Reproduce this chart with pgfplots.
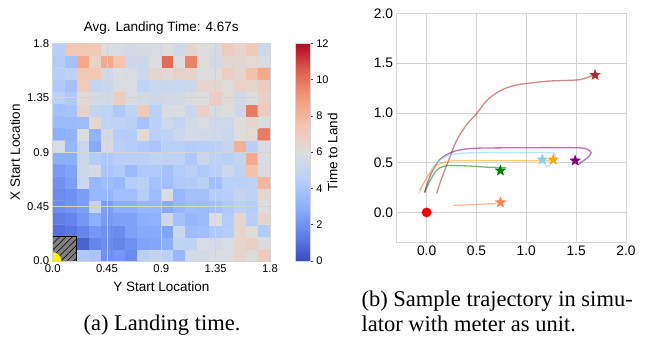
\documentclass[border=0pt]{standalone}
\usepackage{pgfplots}
\pgfplotsset{compat=1.18}
\usepackage{fontspec}
\setmainfont{Liberation Sans}
\newfontfamily\capfont{Liberation Serif}
\usetikzlibrary{patterns.meta}
\definecolor{gridc}{RGB}{212,212,212}
\definecolor{cbrown}{RGB}{165,42,42}
\definecolor{cpurple}{RGB}{128,0,128}
\definecolor{csky}{RGB}{135,206,235}
\definecolor{corange}{RGB}{255,165,0}
\definecolor{cgreen}{RGB}{0,128,0}
\definecolor{ccoral}{RGB}{255,127,80}
\pgfplotsset{colormap={coolwarm}{rgb255=(59,76,192) rgb255=(98,130,234) rgb255=(141,176,254) rgb255=(184,208,249) rgb255=(221,221,221) rgb255=(245,196,173) rgb255=(244,154,123) rgb255=(222,96,77) rgb255=(180,4,38)}}
\pgfdeclareplotmark{fstar}{%
  \pgfpathmoveto{\pgfpointpolar{90}{\pgfplotmarksize}}%
  \pgfpathlineto{\pgfpointpolar{126}{0.42\pgfplotmarksize}}%
  \pgfpathlineto{\pgfpointpolar{162}{\pgfplotmarksize}}%
  \pgfpathlineto{\pgfpointpolar{198}{0.42\pgfplotmarksize}}%
  \pgfpathlineto{\pgfpointpolar{234}{\pgfplotmarksize}}%
  \pgfpathlineto{\pgfpointpolar{270}{0.42\pgfplotmarksize}}%
  \pgfpathlineto{\pgfpointpolar{306}{\pgfplotmarksize}}%
  \pgfpathlineto{\pgfpointpolar{342}{0.42\pgfplotmarksize}}%
  \pgfpathlineto{\pgfpointpolar{18}{\pgfplotmarksize}}%
  \pgfpathlineto{\pgfpointpolar{54}{0.42\pgfplotmarksize}}%
  \pgfpathclose
  \pgfusepathqfillstroke
}
\begin{document}
\begin{tikzpicture}
\useasboundingbox (0pt,0pt) rectangle (657pt,341pt);
% ---------------- heatmap ----------------
\begin{axis}[
  at={(52.7pt,80pt)}, anchor=south west,
  scale only axis, width=217.3pt, height=217.7pt,
  xmin=0, xmax=1.8, ymin=0, ymax=1.8, enlargelimits=false,
  axis on top,
  xtick={0,0.45,0.9,1.35,1.8}, xticklabels={0.0,0.45,0.9,1.35,1.8},
  ytick={0,0.45,0.9,1.35,1.8}, yticklabels={0.0,0.45,0.9,1.35,1.8},
  grid=major, major grid style={draw=gridc, line width=0.8pt},
  axis line style={draw=gridc, line width=0.8pt},
  major tick length=0pt,
  tick label style={font=\fontsize{11.3}{13}\selectfont},
  xlabel={Y Start Location}, ylabel={X Start Location},
  label style={font=\fontsize{13.5}{16}\selectfont},
  xlabel style={at={(axis description cs:0.5,-0.117)}, anchor=center},
  ylabel style={at={(axis description cs:-0.1735,0.5)}, anchor=center},
  title={Avg. Landing Time: 4.67s},
  title style={font=\fontsize{13.5}{16}\selectfont, at={(0.5,1)}, anchor=base, yshift=5.8pt},
  colormap name=coolwarm, point meta min=0, point meta max=12,
  colorbar,
  colorbar style={
    at={(parent axis.north east)}, anchor=north west, xshift=16.7pt,
    scale only axis, width=15pt, height=217.7pt,
    ytick={0,2,...,12}, ytick pos=right, yticklabel pos=right,
    tick align=outside, major tick length=2.5pt,
    major tick style={draw=black!70, line width=0.5pt},
    axis line style={draw=gridc},
    /pgf/number format/assume math mode=true,
    yticklabel style={font=\fontsize{11}{13}\selectfont},
    ylabel={Time to Land},
    ylabel style={font=\fontsize{13.5}{16}\selectfont, at={(axis description cs:2.49,0.5)}, anchor=center},
  },
  clip marker paths=true,
]
\addplot[matrix plot*, shader=flat corner, mesh/cols=18, point meta=explicit] table[row sep=\\, meta=c] {
h v c\\
0.05 0.05 0\\ 0.15 0.05 0\\ 0.25 0.05 4.2\\ 0.35 0.05 4.0\\ 0.45 0.05 2.0\\ 0.55 0.05 2.2\\ 0.65 0.05 1.8\\ 0.75 0.05 4.6\\ 0.85 0.05 5.0\\ 0.95 0.05 4.6\\ 1.05 0.05 3.4\\ 1.15 0.05 5.5\\ 1.25 0.05 5.5\\ 1.35 0.05 5.9\\ 1.45 0.05 5.9\\ 1.55 0.05 6.4\\ 1.65 0.05 6.1\\ 1.75 0.05 7.0\\
0.05 0.15 0\\ 0.15 0.15 0\\ 0.25 0.15 0.6\\ 0.35 0.15 1.6\\ 0.45 0.15 1.9\\ 0.55 0.15 1.6\\ 0.65 0.15 2.0\\ 0.75 0.15 2.6\\ 0.85 0.15 2.7\\ 0.95 0.15 3.0\\ 1.05 0.15 4.8\\ 1.15 0.15 4.7\\ 1.25 0.15 5.8\\ 1.35 0.15 5.6\\ 1.45 0.15 5.8\\ 1.55 0.15 6.5\\ 1.65 0.15 6.8\\ 1.75 0.15 5.9\\
0.05 0.25 1.0\\ 0.15 0.25 1.2\\ 0.25 0.25 1.6\\ 0.35 0.25 2.2\\ 0.45 0.25 2.0\\ 0.55 0.25 1.8\\ 0.65 0.25 2.5\\ 0.75 0.25 2.8\\ 0.85 0.25 2.8\\ 0.95 0.25 2.6\\ 1.05 0.25 5.2\\ 1.15 0.25 3.6\\ 1.25 0.25 3.7\\ 1.35 0.25 4.2\\ 1.45 0.25 4.4\\ 1.55 0.25 6.5\\ 1.65 0.25 6.0\\ 1.75 0.25 4.3\\
0.05 0.35 1.4\\ 0.15 0.35 1.6\\ 0.25 0.35 2.2\\ 0.35 0.35 3.0\\ 0.45 0.35 2.3\\ 0.55 0.35 2.5\\ 0.65 0.35 2.5\\ 0.75 0.35 3.0\\ 0.85 0.35 3.1\\ 0.95 0.35 5.4\\ 1.05 0.35 3.8\\ 1.15 0.35 3.3\\ 1.25 0.35 3.5\\ 1.35 0.35 6.0\\ 1.45 0.35 4.3\\ 1.55 0.35 6.5\\ 1.65 0.35 4.5\\ 1.75 0.35 6.6\\
0.05 0.45 1.8\\ 0.15 0.45 2.1\\ 0.25 0.45 2.4\\ 0.35 0.45 5.0\\ 0.45 0.45 2.4\\ 0.55 0.45 3.0\\ 0.65 0.45 3.0\\ 0.75 0.45 3.3\\ 0.85 0.45 3.3\\ 0.95 0.45 2.8\\ 1.05 0.45 3.3\\ 1.15 0.45 3.6\\ 1.25 0.45 3.5\\ 1.35 0.45 3.8\\ 1.45 0.45 4.2\\ 1.55 0.45 4.6\\ 1.65 0.45 4.4\\ 1.75 0.45 6.0\\
0.05 0.55 1.8\\ 0.15 0.55 2.0\\ 0.25 0.55 2.4\\ 0.35 0.55 3.4\\ 0.45 0.55 3.3\\ 0.55 0.55 3.7\\ 0.65 0.55 3.7\\ 0.75 0.55 4.4\\ 0.85 0.55 3.6\\ 0.95 0.55 5.9\\ 1.05 0.55 3.3\\ 1.15 0.55 3.8\\ 1.25 0.55 3.8\\ 1.35 0.55 4.4\\ 1.45 0.55 4.5\\ 1.55 0.55 5.0\\ 1.65 0.55 4.7\\ 1.75 0.55 6.5\\
0.05 0.65 2.0\\ 0.15 0.65 2.4\\ 0.25 0.65 5.2\\ 0.35 0.65 3.4\\ 0.45 0.65 3.6\\ 0.55 0.65 3.4\\ 0.65 0.65 4.4\\ 0.75 0.65 4.6\\ 0.85 0.65 3.8\\ 0.95 0.65 3.7\\ 1.05 0.65 4.2\\ 1.15 0.65 4.3\\ 1.25 0.65 4.6\\ 1.35 0.65 3.7\\ 1.45 0.65 4.6\\ 1.55 0.65 4.6\\ 1.65 0.65 4.7\\ 1.75 0.65 8.0\\
0.05 0.75 2.3\\ 0.15 0.75 2.6\\ 0.25 0.75 5.3\\ 0.35 0.75 5.6\\ 0.45 0.75 4.0\\ 0.55 0.75 4.3\\ 0.65 0.75 3.5\\ 0.75 0.75 4.2\\ 0.85 0.75 4.2\\ 0.95 0.75 3.8\\ 1.05 0.75 4.3\\ 1.15 0.75 4.6\\ 1.25 0.75 4.2\\ 1.35 0.75 4.6\\ 1.45 0.75 5.3\\ 1.55 0.75 4.7\\ 1.65 0.75 7.6\\ 1.75 0.75 5.8\\
0.05 0.85 3.0\\ 0.15 0.85 3.0\\ 0.25 0.85 5.2\\ 0.35 0.85 4.4\\ 0.45 0.85 4.2\\ 0.55 0.85 4.5\\ 0.65 0.85 4.6\\ 0.75 0.85 4.6\\ 0.85 0.85 4.8\\ 0.95 0.85 4.7\\ 1.05 0.85 4.7\\ 1.15 0.85 4.2\\ 1.25 0.85 5.2\\ 1.35 0.85 4.7\\ 1.45 0.85 4.6\\ 1.55 0.85 5.0\\ 1.65 0.85 8.5\\ 1.75 0.85 5.8\\
0.05 0.95 5.8\\ 0.15 0.95 3.3\\ 0.25 0.95 5.2\\ 0.35 0.95 2.8\\ 0.45 0.95 5.8\\ 0.55 0.95 4.6\\ 0.65 0.95 4.4\\ 0.75 0.95 4.2\\ 0.85 0.95 4.0\\ 0.95 0.95 4.6\\ 1.05 0.95 4.6\\ 1.15 0.95 4.4\\ 1.25 0.95 4.5\\ 1.35 0.95 4.6\\ 1.45 0.95 5.0\\ 1.55 0.95 8.3\\ 1.65 0.95 4.5\\ 1.75 0.95 5.8\\
0.05 1.05 3.0\\ 0.15 1.05 3.2\\ 0.25 1.05 6.0\\ 0.35 1.05 3.2\\ 0.45 1.05 5.6\\ 0.55 1.05 4.4\\ 0.65 1.05 4.4\\ 0.75 1.05 6.3\\ 0.85 1.05 4.6\\ 0.95 1.05 4.7\\ 1.05 1.05 5.2\\ 1.15 1.05 5.6\\ 1.25 1.05 5.5\\ 1.35 1.05 5.4\\ 1.45 1.05 5.2\\ 1.55 1.05 6.0\\ 1.65 1.05 6.3\\ 1.75 1.05 9.8\\
0.05 1.15 3.5\\ 0.15 1.15 3.5\\ 0.25 1.15 3.6\\ 0.35 1.15 6.5\\ 0.45 1.15 4.8\\ 0.55 1.15 4.8\\ 0.65 1.15 4.6\\ 0.75 1.15 3.9\\ 0.85 1.15 4.6\\ 0.95 1.15 5.4\\ 1.05 1.15 5.0\\ 1.15 1.15 5.5\\ 1.25 1.15 5.8\\ 1.35 1.15 5.4\\ 1.45 1.15 5.4\\ 1.55 1.15 6.0\\ 1.65 1.15 6.4\\ 1.75 1.15 5.9\\
0.05 1.25 3.8\\ 0.15 1.25 3.9\\ 0.25 1.25 6.6\\ 0.35 1.25 5.0\\ 0.45 1.25 4.8\\ 0.55 1.25 4.2\\ 0.65 1.25 4.8\\ 0.75 1.25 7.2\\ 0.85 1.25 4.6\\ 0.95 1.25 5.9\\ 1.05 1.25 5.9\\ 1.15 1.25 5.2\\ 1.25 1.25 6.8\\ 1.35 1.25 5.8\\ 1.45 1.25 6.0\\ 1.55 1.25 5.4\\ 1.65 1.25 9.8\\ 1.75 1.25 7.0\\
0.05 1.35 4.6\\ 0.15 1.35 4.2\\ 0.25 1.35 6.2\\ 0.35 1.35 5.6\\ 0.45 1.35 5.5\\ 0.55 1.35 6.9\\ 0.65 1.35 5.8\\ 0.75 1.35 5.5\\ 0.85 1.35 5.3\\ 0.95 1.35 5.4\\ 1.05 1.35 5.5\\ 1.15 1.35 5.9\\ 1.25 1.35 6.0\\ 1.35 1.35 7.0\\ 1.45 1.35 6.3\\ 1.55 1.35 5.6\\ 1.65 1.35 6.0\\ 1.75 1.35 6.8\\
0.05 1.45 4.2\\ 0.15 1.45 3.8\\ 0.25 1.45 7.1\\ 0.35 1.45 5.0\\ 0.45 1.45 5.2\\ 0.55 1.45 5.8\\ 0.65 1.45 5.8\\ 0.75 1.45 4.8\\ 0.85 1.45 5.2\\ 0.95 1.45 5.2\\ 1.05 1.45 5.2\\ 1.15 1.45 5.3\\ 1.25 1.45 6.5\\ 1.35 1.45 6.4\\ 1.45 1.45 6.1\\ 1.55 1.45 6.6\\ 1.65 1.45 6.5\\ 1.75 1.45 7.0\\
0.05 1.55 4.5\\ 0.15 1.55 4.7\\ 0.25 1.55 7.3\\ 0.35 1.55 7.3\\ 0.45 1.55 5.5\\ 0.55 1.55 5.9\\ 0.65 1.55 5.8\\ 0.75 1.55 5.3\\ 0.85 1.55 6.5\\ 0.95 1.55 6.3\\ 1.05 1.55 6.7\\ 1.15 1.55 6.6\\ 1.25 1.55 5.9\\ 1.35 1.55 6.0\\ 1.45 1.55 6.9\\ 1.55 1.55 6.5\\ 1.65 1.55 7.6\\ 1.75 1.55 8.5\\
0.05 1.65 4.3\\ 0.15 1.65 3.8\\ 0.25 1.65 8.5\\ 0.35 1.65 6.7\\ 0.45 1.65 8.5\\ 0.55 1.65 7.5\\ 0.65 1.65 5.3\\ 0.75 1.65 5.3\\ 0.85 1.65 6.0\\ 0.95 1.65 10.2\\ 1.05 1.65 6.0\\ 1.15 1.65 9.6\\ 1.25 1.65 6.1\\ 1.35 1.65 5.6\\ 1.45 1.65 6.4\\ 1.55 1.65 6.4\\ 1.65 1.65 6.3\\ 1.75 1.65 5.9\\
0.05 1.75 4.5\\ 0.15 1.75 7.3\\ 0.25 1.75 7.3\\ 0.35 1.75 7.2\\ 0.45 1.75 5.9\\ 0.55 1.75 5.8\\ 0.65 1.75 5.6\\ 0.75 1.75 5.7\\ 0.85 1.75 5.8\\ 0.95 1.75 6.0\\ 1.05 1.75 5.4\\ 1.15 1.75 6.4\\ 1.25 1.75 6.0\\ 1.35 1.75 5.8\\ 1.45 1.75 7.0\\ 1.55 1.75 6.6\\ 1.65 1.75 7.2\\ 1.75 1.75 5.3\\
};
\addplot[draw=black, line width=0.8pt, fill=gray, postaction={pattern={Lines[angle=45, distance=4.5pt, line width=0.6pt]}}] coordinates {(0,0) (0.2,0) (0.2,0.2) (0,0.2)} -- cycle;
\addplot[only marks, mark=*, mark size=8.5pt, draw=yellow, fill=yellow] coordinates {(0,0)};
\end{axis}
% ---------------- trajectories ----------------
\begin{axis}[
  at={(396.7pt,98.7pt)}, anchor=south west,
  scale only axis, width=229.3pt, height=229pt,
  xmin=-0.3, xmax=2.0, ymin=-0.3, ymax=2.0,
  xtick={0,0.5,1,1.5,2}, ytick={0,0.5,1,1.5,2},
  grid=major, major grid style={draw=gridc, line width=0.7pt},
  axis line style={draw=gridc, line width=0.8pt},
  major tick length=0pt,
  /pgf/number format/assume math mode=true,
  /pgf/number format/fixed, /pgf/number format/fixed zerofill, /pgf/number format/precision=1,
  tick label style={font=\fontsize{13.8}{16}\selectfont},
  every axis plot/.append style={line width=1.3pt},
]
\addplot[cbrown, draw opacity=0.55, smooth, tension=0.5] coordinates {(0.10,0.19) (0.15,0.34) (0.22,0.52) (0.30,0.72) (0.40,0.88) (0.50,0.99) (0.60,1.12) (0.70,1.20) (0.80,1.25) (0.90,1.28) (1.04,1.30) (1.24,1.32) (1.50,1.33) (1.60,1.35) (1.67,1.38)};
\addplot[cpurple, draw opacity=0.55, smooth, tension=0.5] coordinates {(-0.02,0.20) (0.01,0.30) (0.06,0.42) (0.13,0.53) (0.22,0.59) (0.32,0.625) (0.50,0.645) (1.00,0.65) (1.50,0.65) (1.61,0.635) (1.65,0.60) (1.62,0.555) (1.56,0.51) (1.52,0.48)};
\addplot[csky, draw opacity=0.55, smooth, tension=0.5] coordinates {(-0.08,0.19) (-0.03,0.29) (0.03,0.40) (0.10,0.50) (0.20,0.565) (0.30,0.59) (0.50,0.60) (1.00,0.60) (1.25,0.60) (1.29,0.575) (1.28,0.53) (1.24,0.48) (1.21,0.46) (1.18,0.50)};
\addplot[corange, draw opacity=0.55, smooth, tension=0.5] coordinates {(-0.07,0.22) (-0.02,0.31) (0.04,0.40) (0.10,0.47) (0.20,0.51) (0.30,0.52) (0.60,0.52) (1.00,0.52) (1.24,0.52)};
\addplot[cgreen, draw opacity=0.55, smooth, tension=0.5] coordinates {(-0.02,0.20) (0.02,0.29) (0.07,0.38) (0.12,0.44) (0.20,0.47) (0.30,0.47) (0.45,0.465) (0.60,0.455) (0.80,0.45)};
\addplot[ccoral, draw opacity=0.55, smooth, tension=0.5] coordinates {(0.26,0.07) (0.50,0.08) (0.70,0.09)};
\addplot[only marks, mark=*, mark size=4.2pt, draw=red, fill=red] coordinates {(0,0)};
\addplot[only marks, mark=fstar, mark size=5.5pt, draw=cbrown, fill=cbrown, line width=0.3pt] coordinates {(1.69,1.38)};
\addplot[only marks, mark=fstar, mark size=5.5pt, draw=cpurple, fill=cpurple, line width=0.3pt] coordinates {(1.49,0.52)};
\addplot[only marks, mark=fstar, mark size=5.5pt, draw=csky, fill=csky, line width=0.3pt] coordinates {(1.16,0.53)};
\addplot[only marks, mark=fstar, mark size=5.5pt, draw=corange, fill=corange, line width=0.3pt] coordinates {(1.27,0.53)};
\addplot[only marks, mark=fstar, mark size=5.5pt, draw=cgreen, fill=cgreen, line width=0.3pt] coordinates {(0.74,0.42)};
\addplot[only marks, mark=fstar, mark size=5.5pt, draw=ccoral, fill=ccoral, line width=0.3pt] coordinates {(0.74,0.10)};
\end{axis}
% ---------------- captions ----------------
\node[font=\capfont\fontsize{22.5}{25}\selectfont, anchor=base] at (162pt,11pt) {(a) Landing time.};
\node[font=\capfont\fontsize{22.5}{25}\selectfont, anchor=base west] at (358pt,35pt) {(b) Sample trajectory in simu-};
\node[font=\capfont\fontsize{22.5}{25}\selectfont, anchor=base west] at (358pt,10pt) {lator with meter as unit.};
\end{tikzpicture}
\end{document}
